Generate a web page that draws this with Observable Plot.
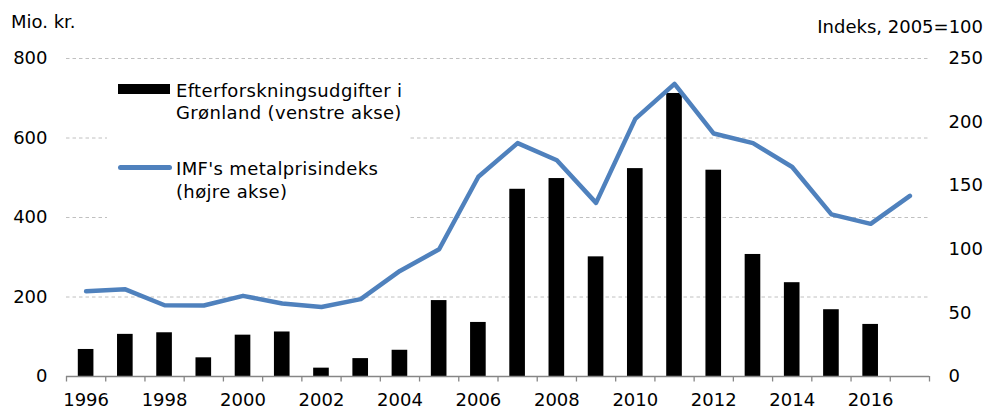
<!DOCTYPE html>
<html>
<head>
<meta charset="utf-8">
<script src="https://cdn.jsdelivr.net/npm/d3@7"></script>
<script src="https://cdn.jsdelivr.net/npm/@observablehq/plot@0.6"></script>
<style>
  html, body { margin: 0; padding: 0; background: white; }
  #wrap { position: relative; width: 997px; height: 409px; font-family: "DejaVu Sans", Verdana, sans-serif; font-size: 18px; color: #000; }
  .abs { position: absolute; white-space: nowrap; line-height: 22px; }
</style>
</head>
<body>
<div id="wrap"></div>
<script>
// Bars: exploration expenditure in Greenland (left axis, mio. kr.)
const barYears = [1996, 1997, 1998, 1999, 2000, 2001, 2002, 2003, 2004, 2005, 2006,
                  2007, 2008, 2009, 2010, 2011, 2012, 2013, 2014, 2015, 2016];
const barValues = [68, 106, 110, 47, 104, 112, 21, 45, 66, 191, 136,
                   471, 498, 301, 523, 712, 519, 307, 236, 168, 131];

// Line: IMF metal price index (right axis, 2005=100)
const lineYears = [1996, 1997, 1998, 1999, 2000, 2001, 2002, 2003, 2004, 2005, 2006,
                   2007, 2008, 2009, 2010, 2011, 2012, 2013, 2014, 2015, 2016, 2017];
const lineValues = [67, 68.5, 56, 55.8, 63.4, 57.4, 54.7, 60.8, 83, 100, 157,
                    183.5, 170, 136.5, 202.5, 230, 191, 183.5, 164.7, 127.5, 120, 142];

const xLabelYears = [1996, 1998, 2000, 2002, 2004, 2006, 2008, 2010, 2012, 2014, 2016];
const leftTicks = [0, 200, 400, 600, 800];
const rightTicks = [0, 50, 100, 150, 200, 250];
const gridValues = [200, 400, 600, 800];

const leftMax = 800, rightMax = 250;
const k = leftMax / rightMax;

const bars = barYears.map((year, i) => ({year, value: barValues[i]}));
const line = lineYears.map((year, i) => ({year, value: lineValues[i]}));
const boundaries = d3.range(lineYears[0] - 0.5, lineYears[lineYears.length - 1] + 1, 1);

const chart = Plot.plot({
  width: 997,
  height: 409,
  marginLeft: 66,
  marginRight: 68,
  marginTop: 58,
  marginBottom: 33,
  x: {type: "linear", domain: [lineYears[0] - 0.5, lineYears[lineYears.length - 1] + 0.5]},
  y: {domain: [0, leftMax]},
  style: {fontFamily: "DejaVu Sans, Verdana, sans-serif", fontSize: "18px", color: "#000", background: "white", overflow: "visible"},
  marks: [
    Plot.ruleY(gridValues, {stroke: "#c0c0c0", strokeWidth: 1, strokeDasharray: "3.5,3"}),
    Plot.rectY(bars, {x1: d => d.year - 0.5, x2: d => d.year + 0.5, y1: 0, y2: "value", insetLeft: 11.8, insetRight: 11.8, fill: "#000"}),
    Plot.ruleY([0], {stroke: "#868686", strokeWidth: 1.3}),
    Plot.axisX({ticks: boundaries, tickSize: 5.5, tickFormat: () => "", stroke: "#868686", strokeWidth: 1.3, label: null}),
    Plot.axisX({ticks: xLabelYears, tickSize: 0, tickPadding: 17, tickFormat: d => String(d), label: null}),
    Plot.axisY({ticks: leftTicks, anchor: "left", tickSize: 0, tickPadding: 19, tickFormat: d => String(d), label: null}),
    Plot.axisY({ticks: rightTicks.map(v => v * k), anchor: "right", tickSize: 0, tickPadding: 19, tickFormat: d => String(Math.round(d / k)), label: null}),
    Plot.line(line, {x: "year", y: d => d.value * k, stroke: "#4f81bd", strokeWidth: 4.5, strokeLinejoin: "round", strokeLinecap: "round"})
  ]
});

const wrap = document.getElementById("wrap");
wrap.appendChild(chart);

function addDiv(html, css) {
  const d = document.createElement("div");
  d.className = "abs";
  d.innerHTML = html;
  Object.assign(d.style, css);
  wrap.appendChild(d);
  return d;
}

// Axis titles
addDiv("Mio. kr.", {left: "11px", top: "11px"});
addDiv("Indeks, 2005=100", {right: "14px", top: "16px"});

// Legend (white box hides the grid lines behind it)
addDiv("", {left: "107px", top: "68px", width: "301px", height: "160px", background: "white"});
addDiv("", {left: "118px", top: "84px", width: "52px", height: "10px", background: "#000"});
addDiv("Efterforskningsudgifter i<br>Grønland (venstre akse)", {left: "176px", top: "80px", letterSpacing: "0.35px"});
addDiv("", {left: "118px", top: "165px", width: "54px", height: "4.5px", background: "#4f81bd", borderRadius: "2.5px"});
addDiv("IMF's metalprisindeks<br>(højre akse)", {left: "176px", top: "157px", lineHeight: "23px", letterSpacing: "0.35px"});
</script>
</body>
</html>
